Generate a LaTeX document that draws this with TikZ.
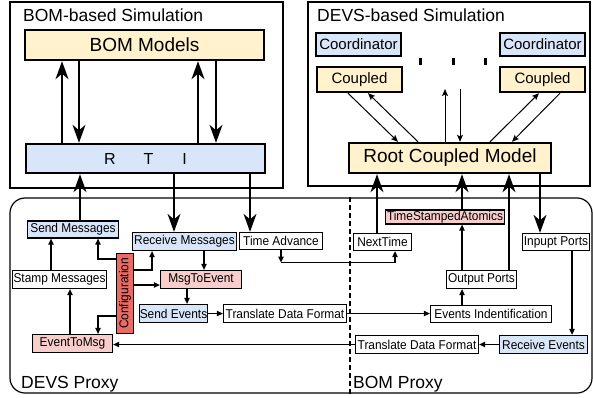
\documentclass[tikz,border=0pt]{standalone}
\usepackage{fontspec}
\setmainfont{Liberation Sans}
\newfontfamily\proxyfont[FakeStretch=0.93]{Liberation Sans}
\usetikzlibrary{arrows.meta}

\definecolor{fillyellow}{HTML}{FFF2CC}
\definecolor{fillblue}{HTML}{D9E6FA}
\definecolor{fillpink}{HTML}{F8CECC}
\definecolor{fillred}{HTML}{EA6B66}

\tikzset{
  outerbox/.style={draw, line width=1.2pt, inner sep=0pt},
  thickbox/.style={draw, line width=2.4pt, inner sep=0pt},
  proxybox/.style={draw, line width=1.3pt, inner sep=0pt, font=\proxyfont\fontsize{12.8}{14}\selectfont},
  bigarrow/.style={line width=1.3pt, -{Stealth[length=18pt,width=13pt,inset=5.5pt]}},
  midarrow/.style={line width=1pt, -{Stealth[length=7pt,width=6pt,inset=1.5pt]}},
  smallarrow/.style={line width=1.2pt, -{Triangle[length=6pt,width=5.5pt]}},
  groupfont/.style={font=\fontsize{17.5}{20}\selectfont},
}

\begin{document}
\begin{tikzpicture}[x=1pt,y=-1pt]
\useasboundingbox (0,0) rectangle (593,398);

% ---------- enclosing groups ----------
\node[outerbox, minimum width=273pt, minimum height=186pt] (bomsim) at (146.5,95) {};
\node[outerbox, minimum width=282pt, minimum height=184pt] (devssim) at (449,94) {};
\node[outerbox, rounded corners=15pt, minimum width=582pt, minimum height=195pt] (proxy) at (301,295.5) {};
\draw[line width=1.2pt, dash pattern=on 5pt off 3pt] (proxy.north -| 350,0) -- (proxy.south -| 350,0);

\node[groupfont, anchor=base west, inner sep=0pt] (bomsimlabel) at (23,22) {BOM-based Simulation};
\node[groupfont, anchor=base west, inner sep=0pt] (devssimlabel) at (317,22) {DEVS-based Simulation};
\node[groupfont, anchor=base west, inner sep=0pt] (devsproxylabel) at (21,388) {DEVS Proxy};
\node[groupfont, anchor=base west, inner sep=0pt] (bomproxylabel) at (353,388) {BOM Proxy};

% ---------- BOM-based simulation ----------
\node[thickbox, fill=fillyellow, minimum width=239pt, minimum height=30pt,
      font=\fontsize{19}{22}\selectfont] (bommodels) at (144.5,45) {BOM Models};
\node[thickbox, fill=fillblue, minimum width=239pt, minimum height=29pt,
      font=\fontsize{16}{19}\selectfont] (rti) at (145.5,158.5) {R\hspace{28pt}T\hspace{29pt}I\hspace{14pt}};

\draw[bigarrow] (rti.north -| 62,0) -- (bommodels.south -| 62,0);
\draw[bigarrow] (bommodels.south -| 79,0) -- (rti.north -| 79,0);
\draw[bigarrow] (rti.north -| 198,0) -- (bommodels.south -| 198,0);
\draw[bigarrow] (bommodels.south -| 216,0) -- (rti.north -| 216,0);

% ---------- DEVS-based simulation ----------
\node[thickbox, fill=fillblue, minimum width=85pt, minimum height=23pt,
      font=\fontsize{15}{18}\selectfont] (coordl) at (358.5,44.5) {Coordinator};
\node[thickbox, fill=fillyellow, minimum width=85pt, minimum height=25pt,
      font=\fontsize{15}{18}\selectfont] (coupledl) at (359.5,79.5) {Coupled};
\node[thickbox, fill=fillblue, minimum width=85pt, minimum height=23pt,
      font=\fontsize{15}{18}\selectfont] (coordr) at (542.5,44.5) {Coordinator};
\node[thickbox, fill=fillyellow, minimum width=85pt, minimum height=25pt,
      font=\fontsize{15}{18}\selectfont] (coupledr) at (542.5,79.5) {Coupled};
\node[thickbox, fill=fillyellow, minimum width=202pt, minimum height=30pt,
      font=\fontsize{19}{22}\selectfont] (root) at (450,158) {Root Coupled Model};

% ellipsis marks between the coupled models
\fill (419,58) rectangle (421.5,65);
\fill (452,58) rectangle (454.5,65);
\fill (484,58) rectangle (486.5,65);

\coordinate (midtop) at (452,89);
\draw[midarrow] (coupledl.south -| 348,0) -- (root.north -| 398,0);
\draw[midarrow] (root.north -| 418,0) -- (coupledl.south -| 368,0);
\draw[midarrow] (root.north -| 445,0) -- (midtop -| 445,0);
\draw[midarrow] (midtop -| 460,0) -- (root.north -| 460,0);
\draw[midarrow] (root.north -| 490,0) -- (coupledr.south -| 539,0);
\draw[midarrow] (coupledr.south -| 560,0) -- (root.north -| 512,0);

% ---------- DEVS proxy ----------
\node[proxybox, fill=fillblue, minimum width=91pt, minimum height=17pt] (sendmsg) at (73,229.5) {Send Messages};
\node[proxybox, fill=fillblue, minimum width=104pt, minimum height=18pt] (recvmsg) at (184.5,241.5) {Receive Messages};
\node[proxybox, minimum width=83pt, minimum height=17pt] (timeadv) at (281,241) {Time Advance};
\node[proxybox, minimum width=94pt, minimum height=18pt] (stampmsg) at (59.5,279.5) {Stamp Messages};
\node[proxybox, fill=fillred, minimum width=80pt, minimum height=17pt, rotate=90] (config) at (125,293.5) {Configuration};
\node[proxybox, fill=fillpink, minimum width=81pt, minimum height=18pt] (msgtoev) at (201,279.5) {MsgToEvent};
\node[proxybox, fill=fillblue, minimum width=68pt, minimum height=18pt] (sendev) at (173.5,313.5) {Send Events};
\node[proxybox, minimum width=123pt, minimum height=18pt] (transl) at (285,313.5) {Translate Data Format};
\node[proxybox, fill=fillpink, minimum width=80pt, minimum height=18pt] (evtomsg) at (72.5,343.5) {EventToMsg};

% ---------- BOM proxy ----------
\node[proxybox, fill=fillpink, minimum width=119pt, minimum height=14pt] (tsa) at (445,217) {TimeStampedAtomics};
\node[proxybox, minimum width=58pt, minimum height=17pt] (nexttime) at (382.5,242) {NextTime};
\node[proxybox, minimum width=67pt, minimum height=17pt] (inports) at (556,242) {Inpupt Ports};
\node[proxybox, minimum width=70pt, minimum height=18pt] (outports) at (481.5,279.5) {Output Ports};
\node[proxybox, minimum width=121pt, minimum height=17pt] (evid) at (491,314) {Events Indentification};
\node[proxybox, minimum width=123pt, minimum height=18pt] (transr) at (417,344.5) {Translate Data Format};
\node[proxybox, fill=fillblue, minimum width=88pt, minimum height=18pt] (recvev) at (543.5,344.5) {Receive Events};

% ---------- links to and from the simulations ----------
\draw[bigarrow] (sendmsg.north -| 80,0) -- (rti.south -| 80,0);
\draw[bigarrow] (rti.south -| 174,0) -- (recvmsg.north -| 174,0);
\draw[bigarrow] (rti.south -| 250,0) -- (timeadv.north -| 250,0);
\draw[bigarrow] (nexttime.north -| 377,0) -- (root.south -| 377,0);
\draw[bigarrow] (tsa.north -| 462,0) -- (root.south -| 462,0);
\draw[bigarrow] (outports.north -| 509,0) -- (root.south -| 509,0);
\draw[bigarrow] (root.south -| 540,0) -- (inports.north -| 540,0);

% ---------- links inside the proxies ----------
\draw[smallarrow] (stampmsg.north -| 51,0) -- (sendmsg.south -| 51,0);
\draw[smallarrow] (evtomsg.north -| 70,0) -- (stampmsg.south -| 70,0);
\draw[smallarrow] (config.north |- 0,259) -| (sendmsg.south -| 98,0);
\draw[smallarrow] (config.south |- 0,270) -| (recvmsg.south -| 152,0);
\draw[smallarrow] (config.south |- 0,285) -- (msgtoev.west |- 0,285);
\draw[smallarrow] (config.north |- 0,316) -| (evtomsg.north -| 98,0);
\draw[smallarrow] (recvmsg.south -| 204,0) -- (msgtoev.north -| 204,0);
\draw[smallarrow] (msgtoev.south -| 187,0) -- (sendev.north -| 187,0);
\draw[smallarrow] (sendev.east) -- (transl.west);
\draw[smallarrow] (transl.east) -- (evid.west |- transl.east);

\coordinate (tacorner) at (281,262.5);
\draw[smallarrow] (timeadv.south) -- (tacorner);
\draw[smallarrow] (tacorner) -| (nexttime.south -| 395,0);

\draw[smallarrow] (inports.south -| 572,0) -- (recvev.north -| 572,0);
\draw[smallarrow] (recvev.west) -- (transr.east);
\draw[smallarrow] (transr.west) -- (evtomsg.east |- transr.west);
\draw[smallarrow] (evid.north -| 462,0) -- (outports.south -| 462,0);
\draw[smallarrow] (outports.north -| 462,0) -- (tsa.south -| 462,0);

\end{tikzpicture}
\end{document}
